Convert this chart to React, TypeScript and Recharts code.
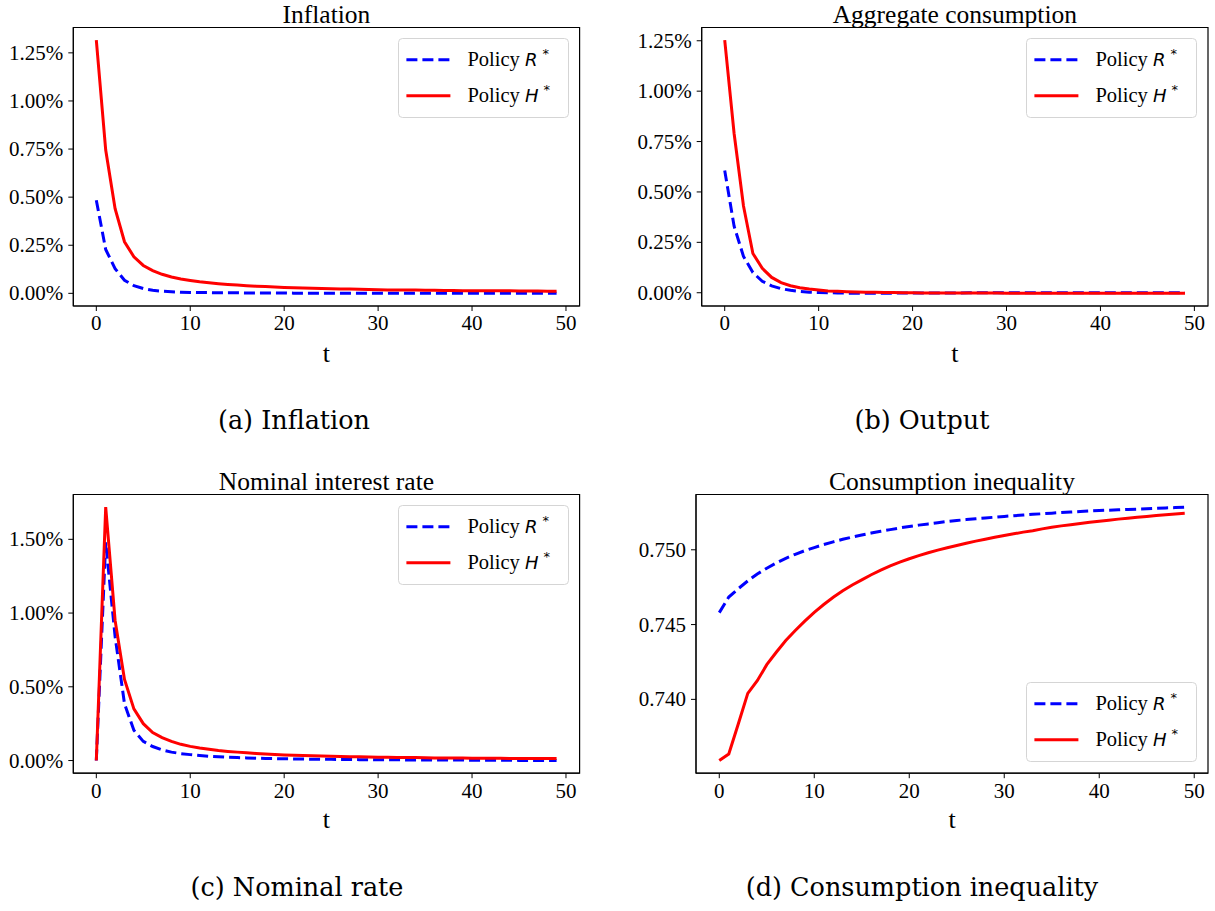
import React from "react";
import { LineChart, Line, XAxis, YAxis, ReferenceArea, Legend } from "recharts";

// t = 0..49
const periods = Array.from({ length: 50 }, (_, i) => i);
const xTicks = [0, 10, 20, 30, 40, 50];

// (a) inflation, %
const inflationR = [
  0.484, 0.228, 0.128, 0.068, 0.04, 0.025, 0.016, 0.011, 0.008, 0.006,
  0.005, 0.004, 0.004, 0.003, 0.003, 0.003, 0.002, 0.002, 0.002, 0.002,
  0.002, 0.001, 0.001, 0.001, 0.001, 0.001, 0.001, 0.001, 0.001, 0.001,
  0.001, 0.0, 0.0, 0.0, 0.0, 0.0, 0.0, 0.0, 0.0, 0.0,
  0.0, 0.0, 0.0, 0.0, 0.0, 0.0, 0.0, 0.0, 0.0, 0.0,
];
const inflationH = [
  1.316, 0.745, 0.44, 0.268, 0.19, 0.145, 0.118, 0.099, 0.085, 0.075,
  0.067, 0.06, 0.055, 0.05, 0.046, 0.043, 0.04, 0.037, 0.035, 0.033,
  0.031, 0.029, 0.028, 0.026, 0.025, 0.024, 0.023, 0.022, 0.021, 0.02,
  0.019, 0.018, 0.018, 0.017, 0.017, 0.016, 0.016, 0.015, 0.015, 0.014,
  0.014, 0.014, 0.013, 0.013, 0.013, 0.012, 0.012, 0.012, 0.011, 0.011,
];

// (b) output, %
const outputR = [
  0.607, 0.33, 0.18, 0.1, 0.057, 0.034, 0.02, 0.012, 0.007, 0.003,
  0.001, 0.0, -0.001, -0.002, -0.002, -0.002, -0.002, -0.002, -0.002, -0.001,
  -0.001, -0.001, -0.001, -0.001, -0.001, -0.001, 0.0, 0.0, 0.0, 0.0,
  0.0, 0.0, 0.0, 0.0, 0.0, 0.0, 0.0, 0.0, 0.0, 0.0,
  0.0, 0.0, 0.0, 0.0, 0.0, 0.0, 0.0, 0.0, 0.0, 0.0,
];
const outputH = [
  1.253, 0.79, 0.43, 0.195, 0.121, 0.076, 0.05, 0.035, 0.025, 0.018,
  0.013, 0.009, 0.007, 0.005, 0.004, 0.003, 0.002, 0.001, 0.001, 0.0,
  0.0, -0.001, -0.001, -0.001, -0.001, -0.001, -0.001, -0.001, -0.001, -0.001,
  -0.002, -0.002, -0.002, -0.002, -0.002, -0.002, -0.002, -0.002, -0.002, -0.002,
  -0.003, -0.003, -0.003, -0.003, -0.003, -0.003, -0.003, -0.003, -0.003, -0.003,
];

// (c) nominal rate, %
const rateR = [
  0.0, 1.48, 0.84, 0.385, 0.205, 0.13, 0.095, 0.072, 0.057, 0.047,
  0.04, 0.034, 0.029, 0.025, 0.022, 0.02, 0.018, 0.016, 0.014, 0.013,
  0.012, 0.011, 0.01, 0.009, 0.008, 0.008, 0.007, 0.007, 0.006, 0.006,
  0.005, 0.005, 0.005, 0.004, 0.004, 0.004, 0.003, 0.003, 0.003, 0.003,
  0.002, 0.002, 0.002, 0.002, 0.002, 0.001, 0.001, 0.001, 0.001, 0.001,
];
const rateH = [
  0.0, 1.718, 0.95, 0.55, 0.35, 0.25, 0.19, 0.155, 0.13, 0.11,
  0.096, 0.085, 0.076, 0.068, 0.062, 0.057, 0.052, 0.048, 0.044, 0.041,
  0.038, 0.036, 0.034, 0.032, 0.03, 0.029, 0.027, 0.026, 0.025, 0.024,
  0.023, 0.022, 0.021, 0.02, 0.02, 0.019, 0.018, 0.018, 0.017, 0.017,
  0.016, 0.016, 0.015, 0.015, 0.014, 0.014, 0.014, 0.013, 0.013, 0.013,
];

// (d) consumption inequality
const ineqR = [
  0.7458, 0.74684, 0.7474, 0.74792, 0.74838, 0.74877, 0.74912, 0.74943, 0.7497, 0.74994,
  0.75015, 0.75035, 0.75053, 0.7507, 0.75085, 0.75099, 0.75112, 0.75124, 0.75135, 0.75146,
  0.75156, 0.75165, 0.75173, 0.75181, 0.75189, 0.75196, 0.75202, 0.75208, 0.75213, 0.75218,
  0.75223, 0.75228, 0.75232, 0.75237, 0.75241, 0.75245, 0.75249, 0.75252, 0.75256, 0.7526,
  0.75263, 0.75265, 0.75267, 0.7527, 0.75272, 0.75274, 0.75277, 0.7528, 0.75282, 0.75285,
];
const ineqH = [
  0.73591, 0.73635, 0.73835, 0.7404, 0.74125, 0.74232, 0.74315, 0.74393, 0.7446, 0.74523,
  0.74582, 0.74634, 0.74683, 0.74726, 0.74765, 0.74799, 0.74833, 0.74864, 0.74892, 0.74917,
  0.7494, 0.74961, 0.7498, 0.74998, 0.75014, 0.75029, 0.75044, 0.75058, 0.75071, 0.75084,
  0.75096, 0.75107, 0.75118, 0.75128, 0.7514, 0.75151, 0.7516, 0.75168, 0.75176, 0.75184,
  0.75191, 0.75198, 0.75205, 0.75211, 0.75217, 0.75223, 0.75229, 0.75234, 0.7524, 0.75245,
];

const pctTicks = [0, 0.25, 0.5, 0.75, 1.0, 1.25];
const rateTicks = [0, 0.5, 1.0, 1.5];
const ineqTicks = [0.74, 0.745, 0.75];

const BLUE = "#0000ff";
const RED = "#ff0000";
const SERIF = "Liberation Serif";
const MATH = "DejaVu Sans";
const CAPTION = "DejaVu Serif";

// matplotlib-style 5% margins
const pad = (a: number[], b: number[]): [number, number] => {
  const all = [...a, ...b];
  const lo = Math.min(...all);
  const hi = Math.max(...all);
  const m = (hi - lo) * 0.05;
  return [lo - m, hi + m];
};
const xPad = (): [number, number] => [-2.45, 51.45];

const pct = (v: number) => `${v.toFixed(2)}%`;
const dec3 = (v: number) => v.toFixed(3);

type Panel = {
  title: string;
  caption: string;
  r: number[];
  h: number[];
  ticks: number[];
  fmt: (v: number) => string;
  px: number;
  py: number;
  w: number;
  h2: number;
  box: { l: number; r: number; t: number; b: number };
  legendBottom?: boolean;
  captionX: number;
};

const ROW2 = 466.5;
const panels: Panel[] = [
  {
    title: "Inflation", caption: "(a) Inflation", r: inflationR, h: inflationH,
    ticks: pctTicks, fmt: pct, px: 0, py: 0, w: 605, h2: 340,
    box: { l: 73.3, r: 579.6, t: 27.5, b: 306 }, captionX: 294,
  },
  {
    title: "Aggregate consumption", caption: "(b) Output", r: outputR, h: outputH,
    ticks: pctTicks, fmt: pct, px: 610, py: 0, w: 605, h2: 340,
    box: { l: 701.7, r: 1208, t: 27.5, b: 306 }, captionX: 922,
  },
  {
    title: "Nominal interest rate", caption: "(c) Nominal rate", r: rateR, h: rateH,
    ticks: rateTicks, fmt: pct, px: 0, py: ROW2, w: 605, h2: 340,
    box: { l: 73.3, r: 579.6, t: 494, b: 772.7 }, captionX: 297,
  },
  {
    title: "Consumption inequality", caption: "(d) Consumption inequality", r: ineqR, h: ineqH,
    ticks: ineqTicks, fmt: dec3, px: 610, py: ROW2, w: 605, h2: 340,
    box: { l: 696, r: 1208, t: 494, b: 772.7 }, legendBottom: true, captionX: 922,
  },
];

const Y_W = 60;
const X_H = 30;
const LEG_W = 171;
const LEG_H = 80;
const TICK_FS = 21;

function LegendBox() {
  const rows = [
    { color: BLUE, dash: "11 5", sym: "R" },
    { color: RED, dash: undefined, sym: "H" },
  ];
  return (
    <svg width={LEG_W} height={LEG_H} style={{ display: "block" }}>
      <rect x={0.5} y={0.5} width={LEG_W - 1} height={LEG_H - 1} rx={4}
        fill="#fff" fillOpacity={0.8} stroke="#d5d5d5" strokeWidth={1} />
      {rows.map((row, i) => (
        <g key={row.sym}>
          <line x1={8.4} x2={52.4} y1={21.7 + i * 36} y2={21.7 + i * 36}
            stroke={row.color} strokeWidth={3} strokeDasharray={row.dash} />
          <text x={69.4} y={28.4 + i * 36} fill="#000" fontFamily={SERIF} fontSize={20.5}>
            Policy{" "}
            <tspan fontFamily={MATH} fontStyle="italic" fontSize={18}>{row.sym}</tspan>
            <tspan fontFamily={MATH} fontSize={13} dx={5} dy={-8}>*</tspan>
          </text>
        </g>
      ))}
    </svg>
  );
}

function XTick(props: any) {
  const { x, y, payload } = props;
  return (
    <text x={x} y={y} dy="0.71em" textAnchor="middle" fontFamily={SERIF} fontSize={TICK_FS} fill="#000">
      {payload.value}
    </text>
  );
}

function makeYTick(fmt: (v: number) => string) {
  return function YTick(props: any) {
    const { x, y, payload } = props;
    return (
      <text x={x} y={y} dy="0.34em" textAnchor="end" fontFamily={SERIF} fontSize={TICK_FS} fill="#000">
        {fmt(payload.value)}
      </text>
    );
  };
}

function PanelChart({ p }: { p: Panel }) {
  const data = periods.map((t, i) => ({ t, r: p.r[i], h: p.h[i] }));
  const [lo, hi] = pad(p.r, p.h);
  const [xl, xr] = xPad();
  const margin = {
    left: p.box.l - p.px - Y_W,
    right: p.px + p.w - p.box.r,
    top: p.box.t - p.py,
    bottom: p.py + p.h2 - p.box.b - X_H,
  };
  const legTop = p.legendBottom ? p.box.b - p.py - 10.8 - LEG_H : p.box.t - p.py + 10.8;
  const legLeft = p.box.r - p.px - 10.6 - LEG_W;
  const YTick = makeYTick(p.fmt);
  return (
    <div style={{ position: "absolute", left: p.px, top: p.py }}>
      <LineChart width={p.w} height={p.h2} data={data} margin={margin}>
        <XAxis dataKey="t" type="number" domain={[xl, xr]} ticks={xTicks} allowDataOverflow
          height={X_H} tick={<XTick />} tickSize={5} tickMargin={4.5}
          stroke="#000" axisLine={{ stroke: "#000" }} tickLine={{ stroke: "#000" }} />
        <YAxis type="number" domain={[lo, hi]} ticks={p.ticks} allowDataOverflow width={Y_W}
          tick={<YTick />} tickSize={5} tickMargin={5}
          stroke="#000" axisLine={{ stroke: "#000" }} tickLine={{ stroke: "#000" }} />
        <Line type="linear" dataKey="r" stroke={BLUE} strokeWidth={3} strokeDasharray="11 5"
          dot={false} activeDot={false} isAnimationActive={false} />
        <Line type="linear" dataKey="h" stroke={RED} strokeWidth={3}
          dot={false} activeDot={false} isAnimationActive={false} />
        <ReferenceArea x1={xl} x2={xr} y1={lo} y2={hi} fill="none" stroke="#000"
          strokeWidth={1.2} ifOverflow="visible" />
        <Legend layout="horizontal" verticalAlign="middle" align="center"
          content={() => <LegendBox />}
          wrapperStyle={{ top: legTop, left: legLeft, width: LEG_W, height: LEG_H }} />
      </LineChart>
    </div>
  );
}

export default function App() {
  return (
    <div style={{ position: "absolute", left: 0, top: 0, width: 1215, height: 911, background: "#fff" }}>
      {panels.map((p) => (
        <PanelChart key={p.title} p={p} />
      ))}
      <svg width={1215} height={911} style={{ position: "absolute", left: 0, top: 0, pointerEvents: "none" }}>
        {panels.map((p) => {
          const cx = (p.box.l + p.box.r) / 2;
          return (
            <g key={p.caption}>
              <text x={cx} y={p.box.t - 4.5} textAnchor="middle" fontFamily={SERIF} fontSize={25.5}>{p.title}</text>
              <text x={cx} y={p.box.b + 55.7} textAnchor="middle" fontFamily={SERIF} fontSize={26}>t</text>
              <text x={p.captionX} y={p.box.b + 123} textAnchor="middle" fontFamily={CAPTION} fontSize={25.5}>{p.caption}</text>
            </g>
          );
        })}
      </svg>
    </div>
  );
}
